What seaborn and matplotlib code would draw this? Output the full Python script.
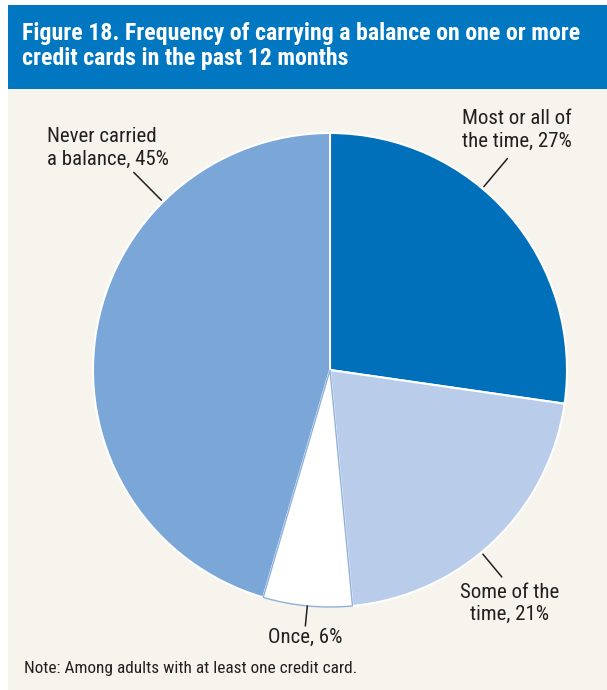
import matplotlib
matplotlib.use("Agg")
import matplotlib.pyplot as plt
import seaborn as sns
import numpy as np
from matplotlib.patches import Rectangle

# Survey shares of adults with a credit card
categories = ["Most or all of\nthe time", "Some of the\ntime", "Once", "Never carried\na balance"]
shares = [27, 21, 6, 45]
label_texts = [f"{c}, {v}%" for c, v in zip(categories, shares)]

title = "Figure 18. Frequency of carrying a balance on one or more\ncredit cards in the past 12 months"
note = "Note: Among adults with at least one credit card."

sns.set_theme(style="white")
plt.rcParams["font.family"] = ["Roboto Condensed", "Archivo Narrow", "Liberation Sans Narrow", "DejaVu Sans"]

W, H = 607, 690
fig = plt.figure(figsize=(W / 100, H / 100), dpi=100)
fig.patch.set_facecolor("white")

def fx(x):
    return x / W

def fy(y):
    return 1 - y / H

# Panel background and header band
fig.patches.append(Rectangle((fx(8), 0), 1 - fx(8), fy(89), transform=fig.transFigure,
                             facecolor="#f7f4ee", edgecolor="none", zorder=-10))
fig.patches.append(Rectangle((fx(8), fy(89)), 1 - fx(8), fy(5) - fy(89), transform=fig.transFigure,
                             facecolor="#0077c0", edgecolor="none", zorder=-10))
fig.text(fx(22), fy(46), title, color="white", fontsize=17.2, fontweight="bold",
         ha="left", va="center", linespacing=1.12)
fig.text(fx(24), fy(668), note, color="#231f20", fontsize=12.4, ha="left", va="center")

# Pie axes: centre and radius in pixels
cx, cy, r = 330, 370, 237
ax = fig.add_axes([fx(cx - r), fy(cy + r), 2 * r / W, 2 * r / H], zorder=2)
ax.patch.set_alpha(0)

colors = ["#0070ba", "#b9cce9", "#ffffff", "#7ba6d8"]
wedges, _ = ax.pie(shares, colors=colors, startangle=90, counterclock=False, radius=1,
                   wedgeprops=dict(edgecolor="white", linewidth=1.5))
wedges[2].set_edgecolor("#8fb0dc")
wedges[2].set_linewidth(1.0)
wedges[2].set_zorder(wedges[3].get_zorder() + 1)
ax.set_xlim(-1, 1)
ax.set_ylim(-1, 1)
ax.set_aspect("equal")
ax.axis("off")

# Leader lines: angle (deg), inner/outer radius, text position (px), alignment
leaders = [
    (50, 1.01, 1.165, (517, 130), "center"),
    (-50.3, 1.01, 1.135, (510, 603), "center"),
    (-95.5, 1.0, 1.085, (305, 637), "center"),
    (134.8, 1.01, 1.175, (47, 148), "left"),
]
for text, (ang, r0, r1, (tx, ty), ha) in zip(label_texts, leaders):
    a = np.deg2rad(ang)
    ax.plot([r0 * np.cos(a), r1 * np.cos(a)], [r0 * np.sin(a), r1 * np.sin(a)],
            color="#231f20", lw=1.1, clip_on=False)
    fig.text(fx(tx), fy(ty), text, fontsize=15, color="#231f20", ha=ha, va="center",
             multialignment=ha, linespacing=1.2)

fig.savefig("out.png", dpi=100, facecolor=fig.get_facecolor())
